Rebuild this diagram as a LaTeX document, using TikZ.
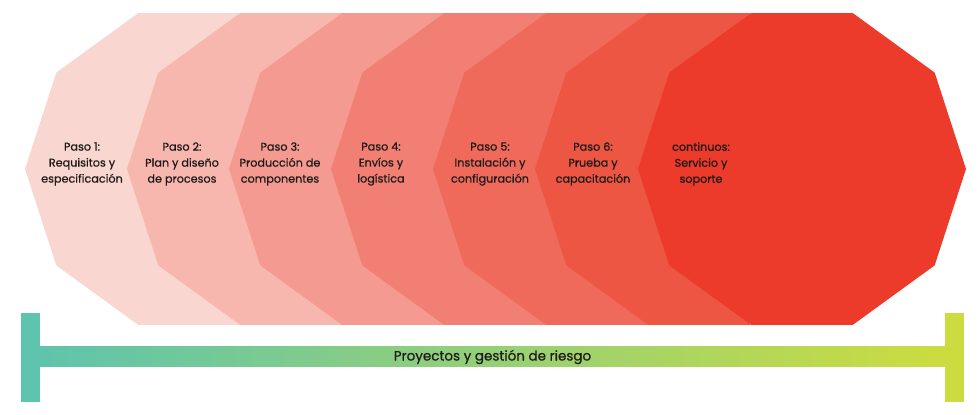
\documentclass[tikz,border=0pt]{standalone}
\usepackage{fontspec}
\setmainfont{Poppins}[FakeBold=0.6]
\usepackage{tikz}
\usetikzlibrary{shapes.geometric}
\definecolor{paso1}{HTML}{F9D6D0}
\definecolor{paso2}{HTML}{F7B7AF}
\definecolor{paso3}{HTML}{F49A90}
\definecolor{paso4}{HTML}{F17F73}
\definecolor{paso5}{HTML}{EF6A5B}
\definecolor{paso6}{HTML}{ED5642}
\definecolor{paso7}{HTML}{EC3A2B}
\definecolor{teal}{HTML}{5FC4AD}
\definecolor{lima}{HTML}{CCDC40}
\definecolor{tinta}{HTML}{1E1A1A}
\tikzset{
	deca/.style={regular polygon,regular polygon sides=10,minimum size=328pt,inner sep=0pt,outer sep=0pt,draw=none},
	txt/.style={align=center,text=tinta,font=\fontsize{11.2}{16}\selectfont},
	barra/.style={minimum width=905pt,minimum height=20pt,inner sep=0pt,left color=teal,right color=lima,text=tinta,font=\fontsize{13.5}{15}\selectfont},
	tope/.style={minimum width=19pt,minimum height=89pt,inner sep=0pt}
}
\begin{document}
\begin{tikzpicture}[x=1pt,y=1pt]
			\useasboundingbox (0,0) rectangle (980,415);
			\node[deca,fill=paso1] (p1) at (189,246) {};
			\node[deca,fill=paso2] (p2) at (291,246) {};
			\node[deca,fill=paso3] (p3) at (393,246) {};
			\node[deca,fill=paso4] (p4) at (495,246) {};
			\node[deca,fill=paso5] (p5) at (597,246) {};
			\node[deca,fill=paso6] (p6) at (699,246) {};
			\node[deca,fill=paso7] (p7) at (802,246) {};
			
			\node[txt] (t1) at (82,251) {Paso 1:\\Requisitos y\\especificación};
			\node[txt] (t2) at (182,251) {Paso 2:\\Plan y diseño\\de procesos};
			\node[txt] (t3) at (280,251) {Paso 3:\\Producción de\\componentes};
			\node[txt] (t4) at (381,251) {Paso 4:\\Envíos y\\logística};
			\node[txt] (t5) at (490,251) {Paso 5:\\Instalación y\\configuración};
			\node[txt] (t6) at (593,251) {Paso 6:\\Prueba y\\capacitación};
			\node[txt] (t7) at (701,251) {continuos:\\Servicio y\\soporte};
			
			\node[tope,fill=teal] (izq) at (30,57.5) {};
			\node[tope,fill=lima] (der) at (954.5,57.5) {};
			\node[barra] (riesgo) at (492.5,58) {Proyectos y gestión de riesgo};
		\end{tikzpicture}
\end{document}
